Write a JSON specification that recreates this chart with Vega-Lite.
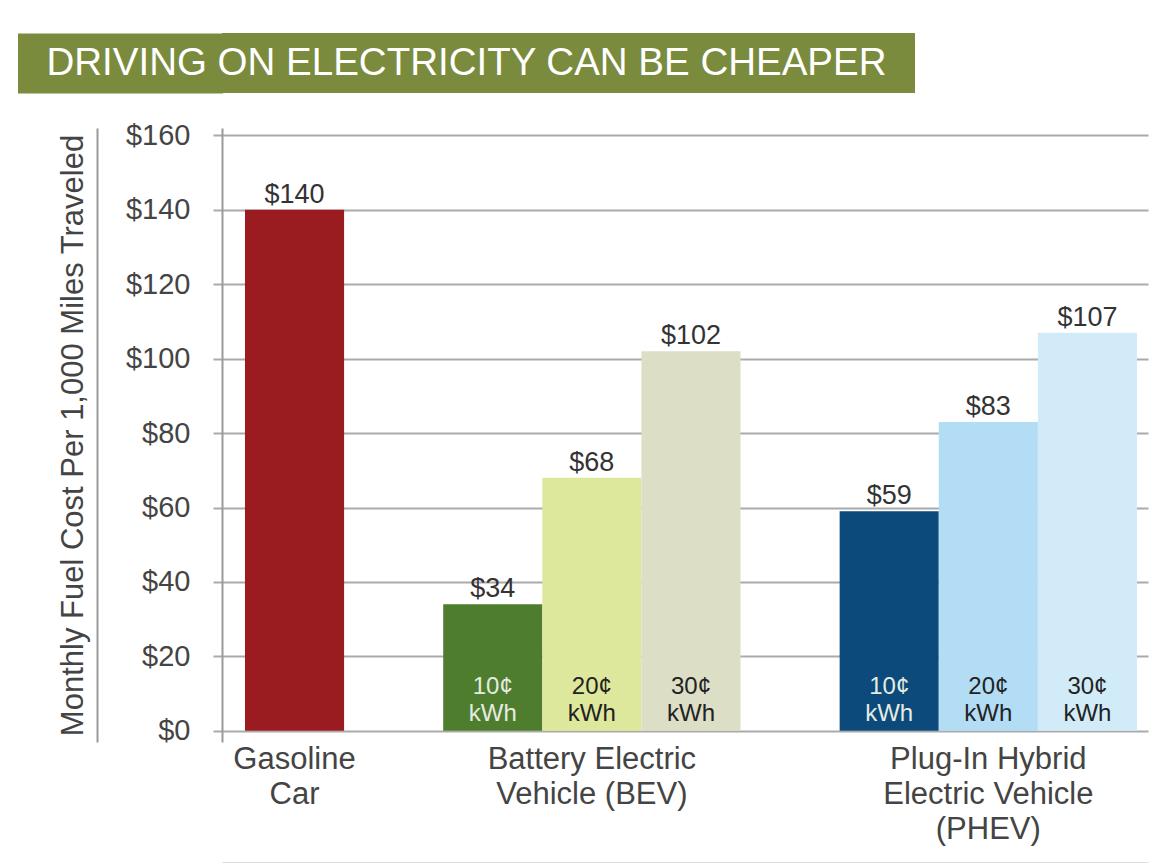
{
  "$schema": "https://vega.github.io/schema/vega-lite/v6.json",
  "padding": {"left": 18, "top": 33, "right": 10, "bottom": 0},
  "background": "white",
  "config": {"font": "Liberation Sans", "view": {"stroke": null}},
  "spacing": 28,
  "vconcat": [
    {
      "width": 693,
      "height": 60,
      "view": {"fill": "#7A8B3D", "stroke": null},
      "data": {"values": [{"title": "DRIVING ON ELECTRICITY CAN BE CHEAPER"}]},
      "mark": {"type": "text", "fontSize": 38.5, "color": "white", "baseline": "middle", "align": "center", "dx": -102},
      "encoding": {
        "text": {"field": "title", "type": "nominal"},
        "y": {
          "datum": 0, "type": "quantitative",
          "scale": {"domain": [-1, 1]},
          "axis": {"orient": "left", "offset": 102, "domainWidth": 205, "domainColor": "#7A8B3D", "domainCap": "butt", "labels": false, "ticks": false, "grid": false, "title": null}
        }
      }
    },
    {
      "width": 926,
      "height": 614,
      "data": {
        "values": [
          {"slot": "gas", "cost": 140, "tier": null, "rate": null},
          {"slot": "b10", "cost": 34, "tier": 10, "rate": "10¢\nkWh"},
          {"slot": "b20", "cost": 68, "tier": 20, "rate": "20¢\nkWh"},
          {"slot": "b30", "cost": 102, "tier": 30, "rate": "30¢\nkWh"},
          {"slot": "p10", "cost": 59, "tier": 10, "rate": "10¢\nkWh"},
          {"slot": "p20", "cost": 83, "tier": 20, "rate": "20¢\nkWh"},
          {"slot": "p30", "cost": 107, "tier": 30, "rate": "30¢\nkWh"}
        ]
      },
      "layer": [
        {
          "mark": {"type": "bar"},
          "encoding": {
            "x": {
              "field": "slot", "type": "nominal",
              "scale": {"domain": ["gas", "g1", "b10", "b20", "b30", "g2", "p10", "p20", "p30"], "paddingInner": 0, "paddingOuter": 0.1715, "align": 0.676},
              "axis": {
                "title": null, "domain": false, "ticks": false, "grid": false, "labelAngle": 0,
                "labelPadding": 2, "labelFontSize": 31, "labelColor": "#444", "labelLineHeight": 35,
                "labelLimit": 400, "labelBaseline": "top",
                "labelExpr": "datum.value == 'gas' ? ['Gasoline','Car'] : datum.value == 'b20' ? ['Battery Electric','Vehicle (BEV)'] : datum.value == 'p20' ? ['Plug-In Hybrid','Electric Vehicle','(PHEV)'] : ''"
              }
            },
            "y": {
              "field": "cost", "type": "quantitative",
              "scale": {"domain": [-3, 162], "nice": false, "zero": false},
              "axis": {
                "values": [0, 20, 40, 60, 80, 100, 120, 140, 160],
                "format": "$.0f",
                "title": "Monthly Fuel Cost Per 1,000 Miles Traveled",
                "titleFontSize": 31, "titleFontWeight": "normal", "titleColor": "#444", "titlePadding": 36,
                "labelFontSize": 29, "labelColor": "#444", "labelPadding": 23,
                "tickSize": 9, "tickColor": "#aaa", "tickWidth": 2,
                "domainColor": "#999", "domainWidth": 2,
                "grid": true, "gridColor": "#aaa", "gridWidth": 2
              }
            },
            "color": {
              "field": "slot", "type": "nominal", "legend": null,
              "scale": {
                "domain": ["gas", "b10", "b20", "b30", "p10", "p20", "p30"],
                "range": ["#9B1C20", "#4F7D2E", "#DEE89C", "#DDDEC6", "#0B4A7A", "#B2DDF4", "#D1EBF8"]
              }
            }
          }
        },
        {
          "mark": {"type": "text", "baseline": "alphabetic", "dy": -7, "fontSize": 27, "color": "#333"},
          "encoding": {
            "x": {
              "field": "slot", "type": "nominal",
              "axis": {"orient": "bottom", "offset": 121, "labels": false, "ticks": false, "grid": false, "title": null, "domain": true, "domainColor": "#bbb", "domainWidth": 2}
            },
            "y": {
              "field": "cost", "type": "quantitative",
              "axis": {"orient": "left", "offset": 125, "values": [160], "labels": false, "ticks": true, "tickSize": 79, "tickOpacity": 0, "grid": false, "title": null, "domainColor": "#999", "domainWidth": 2}
            },
            "text": {"field": "cost", "type": "quantitative", "format": "$.0f"}
          }
        },
        {
          "transform": [{"filter": "datum.rate != null"}],
          "mark": {"type": "text", "baseline": "top", "dy": -56, "fontSize": 24, "lineHeight": 27, "lineBreak": "\n"},
          "encoding": {
            "x": {"field": "slot", "type": "nominal", "axis": null},
            "y": {"datum": 0, "type": "quantitative", "axis": null},
            "text": {"field": "rate", "type": "nominal"},
            "color": {"condition": {"test": "datum.tier == 10", "value": "#e6ebe2"}, "value": "#222"}
          }
        }
      ],
      "resolve": {"axis": {"x": "independent", "y": "independent"}}
    }
  ]
}
